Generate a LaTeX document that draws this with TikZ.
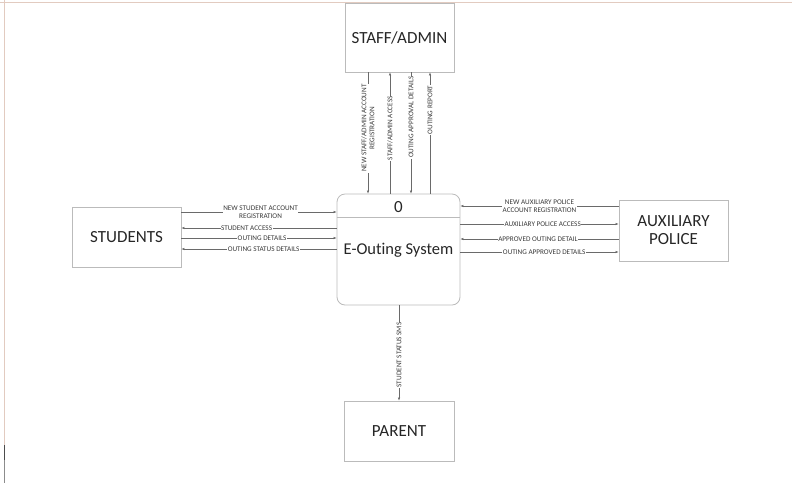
\documentclass[tikz,border=0pt]{standalone}
\usepackage{fontspec}
\setmainfont[Ligatures=NoCommon]{Carlito}
\usetikzlibrary{arrows.meta}
\definecolor{boxline}{HTML}{BBBBBB}
\definecolor{flowline}{HTML}{6A6A6A}
\definecolor{txt}{HTML}{262626}
\definecolor{lbltxt}{HTML}{3A3A3A}
\definecolor{frameline}{HTML}{E2CBC0}
\begin{document}
\begin{tikzpicture}[x=1pt,y=-1pt,
  entity/.style={draw=boxline,line width=0.8pt,fill=white,minimum width=109pt,minimum height=61pt,font=\fontsize{17}{19}\selectfont,text=txt,align=center,inner sep=0pt},
  flow/.style={draw=flowline,line width=0.5pt,-{Latex[length=3pt,width=2.4pt]}},
  lbl/.style={fill=white,inner sep=0.6pt,font=\fontsize{7.2}{8}\selectfont,text=lbltxt,align=center},
  vlbl/.style={lbl,rotate=90}]
\useasboundingbox (0,0) rectangle (792,483);
\fill[white] (0,0) rectangle (792,483);
% frame
\draw[frameline,line width=1pt] (0,2) -- (792,2);
\draw[frameline,line width=1pt] (4,0) -- (4,445);
\draw[black!70,line width=1pt] (4,445) -- (4,460);
\draw[black!45,line width=1pt] (4,460) -- (4,483);
% nodes
\node[entity,minimum height=69pt] (staff) at (399.5,37.5) {STAFF/ADMIN};
\node[entity,minimum height=60pt] (stud) at (126.5,237) {STUDENTS};
\node[entity,minimum height=61pt] (aux) at (673.5,230.5) {AUXILIARY\\[-1pt]POLICE};
\node[entity,minimum width=110pt,minimum height=60pt] (par) at (399,431) {PARENT};
\node[draw=boxline,line width=0.8pt,rounded corners=8pt,minimum width=123pt,minimum height=111pt,inner sep=0pt] (proc) at (398.5,249.5) {};
\draw[boxline,line width=0.8pt] ([yshift=-24pt]proc.north west) -- ([yshift=-24pt]proc.north east);
\node[font=\fontsize{17}{19}\selectfont,text=txt] (pnum) at (398.5,207) {0};
\node[font=\fontsize{16.5}{19}\selectfont,text=txt] (pname) at (398.5,250) {E-Outing System};
% staff flows
\draw[flow] ([xshift=-31.5pt]staff.south) -- ([xshift=-31.5pt]staff.south |- proc.north)
  node[vlbl,pos=0.46] {NEW STAFF/ADMIN ACCOUNT\\REGISTRATION};
\draw[flow] ([xshift=-9.5pt]staff.south |- proc.north) -- ([xshift=-9.5pt]staff.south)
  node[vlbl,pos=0.54] {STAFF/ADMIN ACCESS};
\draw[flow] ([xshift=11.5pt]staff.south) -- ([xshift=11.5pt]staff.south |- proc.north)
  node[vlbl,pos=0.37] {OUTING APPROVAL DETAILS};
\draw[flow] ([xshift=30.5pt]staff.south |- proc.north) -- ([xshift=30.5pt]staff.south)
  node[vlbl,pos=0.69] {OUTING REPORT};
% student flows
\draw[flow] ([yshift=25pt]stud.east) -- ([yshift=25pt]stud.east -| proc.west)
  node[lbl,pos=0.51] {NEW STUDENT ACCOUNT\\REGISTRATION};
\draw[flow] ([yshift=9pt]stud.east -| proc.west) -- ([yshift=9pt]stud.east)
  node[lbl,pos=0.58] {STUDENT ACCESS};
\draw[flow] ([yshift=-1pt]stud.east) -- ([yshift=-1pt]stud.east -| proc.west)
  node[lbl,pos=0.52] {OUTING DETAILS};
\draw[flow] ([yshift=-12pt]stud.east -| proc.west) -- ([yshift=-12pt]stud.east)
  node[lbl,pos=0.47] {OUTING STATUS DETAILS};
% auxiliary police flows
\draw[flow] ([yshift=24.5pt]aux.west) -- ([yshift=24.5pt]aux.west -| proc.east)
  node[lbl,pos=0.5] {NEW AUXILIARY POLICE\\ACCOUNT REGISTRATION};
\draw[flow] ([yshift=6.5pt]aux.west -| proc.east) -- ([yshift=6.5pt]aux.west)
  node[lbl,pos=0.52] {AUXILIARY POLICE ACCESS};
\draw[flow] ([yshift=-8.5pt]aux.west) -- ([yshift=-8.5pt]aux.west -| proc.east)
  node[lbl,pos=0.51] {APPROVED OUTING DETAIL};
\draw[flow] ([yshift=-21.5pt]aux.west -| proc.east) -- ([yshift=-21.5pt]aux.west)
  node[lbl,pos=0.53] {OUTING APPROVED DETAILS};
% parent flow
\draw[flow] (par.north |- proc.south) -- (par.north)
  node[vlbl,pos=0.52] {STUDENT STATUS SMS};
\end{tikzpicture}
\end{document}
